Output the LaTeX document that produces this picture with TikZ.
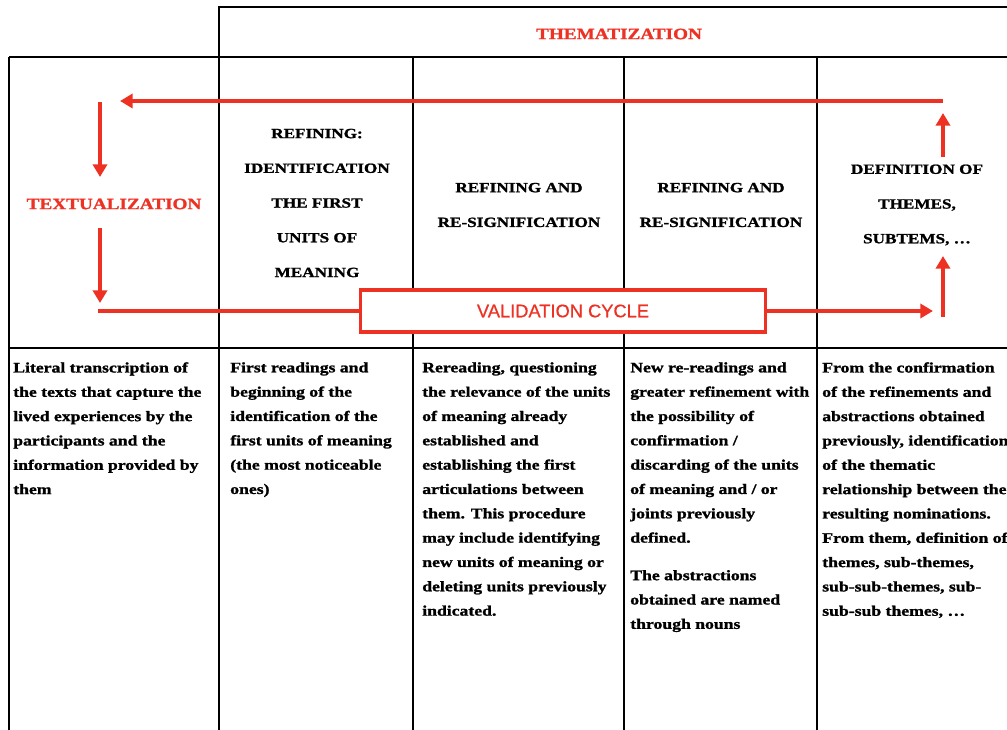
\documentclass[tikz,border=0pt]{standalone}
\usepackage{fontspec}
\newfontfamily\cellfont[FakeStretch=1.22,FakeBold=1.3]{Liberation Serif}
\newfontfamily\valfont[FakeBold=0.6]{Liberation Sans}
\usetikzlibrary{arrows.meta}
\usetikzlibrary{positioning}
\definecolor{cyclered}{RGB}{237,50,36}

\begin{document}
\begin{tikzpicture}[x=0.025cm,y=-0.025cm]
\tikzset{gridline/.style={line width=1.5pt,black},
cycleline/.style={line width=2.3pt,cyclered},
cyclearrow/.style={cycleline,-{Triangle[length=9pt,width=10pt]}},
stagehead/.style={font=\cellfont\bfseries\fontsize{10}{24.7}\selectfont,align=center,inner sep=0pt},
phasehead/.style={font=\cellfont\bfseries\fontsize{11.2}{13}\selectfont,text=cyclered,inner sep=0pt},
celltext/.style={font=\cellfont\bfseries\fontsize{10.3}{17.3}\selectfont,align=left,anchor=north west,inner sep=0pt}}
\useasboundingbox (0,0) rectangle (1007,730);
\clip (0,0) rectangle (1007,730);
% table frame
\draw[gridline] (219,57) -- (219,7) -- (1030,7);
\draw[gridline] (9,57) -- (1030,57);
\draw[gridline] (9,348) -- (1030,348);
\foreach \x in {9,219,413,624,817}
  \draw[gridline] (\x,57) -- (\x,740);
% headings
\node[phasehead](them) at (619,34) {THEMATIZATION};
\node[phasehead](text) at (114,204) {TEXTUALIZATION};
\node[stagehead](first) at (317,203) {REFINING:\\IDENTIFICATION\\THE FIRST\\UNITS OF\\MEANING};
\node[stagehead](resig) at (519,205) {REFINING AND\\RE-SIGNIFICATION};
\node[stagehead](resigb) at (721,205) {REFINING AND\\RE-SIGNIFICATION};
\node[stagehead](defin) at (917,205) {DEFINITION OF\\THEMES,\\SUBTEMS, \dots};
% validation cycle
\node[draw=cyclered,line width=2.3pt,fill=white,minimum width=10.125cm,minimum height=1.05cm,
  font=\valfont\fontsize{13}{15}\selectfont,text=cyclered](valid) at (563,311) {VALIDATION CYCLE};
\coordinate (topright) at (943,101);
\coordinate (topleft) at (120,101);
\coordinate (downa) at (100,102);
\coordinate (downb) at (100,177);
\coordinate (downc) at (100,228);
\coordinate (downd) at (100,303);
\coordinate (botleft) at (98,311);
\coordinate (botright) at (933,311);
\coordinate (upa) at (943,317);
\coordinate (upb) at (943,256);
\coordinate (upc) at (943,157);
\coordinate (upd) at (943,113);
\draw[cyclearrow](topright) -- (topleft);
\draw[cyclearrow](downa) -- (downb);
\draw[cyclearrow](downc) -- (downd);
\draw[cycleline](botleft) -- (valid.west);
\draw[cyclearrow](valid.east) -- (botright);
\draw[cyclearrow](upa) -- (upb);
\draw[cyclearrow](upc) -- (upd);
% cell texts
\node[celltext](transc) at (13,362) {Literal transcription  of\\the texts that capture the\\lived experiences by the\\participants and the\\information provided by\\them};
\node[celltext](readings) at (230,362) {First readings and\\beginning of the\\identification of the\\first units of meaning\\(the most noticeable\\ones)};
\node[celltext](rereading) at (422,362) {Rereading, questioning\\the relevance of the units\\of meaning already\\established  and\\establishing the first\\articulations between\\them. This procedure\\may include identifying\\new units of meaning or\\deleting units previously\\indicated.};
\node[celltext](newread) at (630,362) {New re-readings and\\greater refinement with\\the possibility  of\\confirmation /\\discarding of the units\\of meaning and / or\\joints previously\\defined.\\[9.4pt]The abstractions\\obtained are named\\through nouns};
\node[celltext](confirm) at (822,362) {From the confirmation\\of the refinements and\\abstractions obtained\\previously, identification\\of the thematic\\relationship between the\\resulting nominations.\\From them, definition of\\themes, sub-themes,\\sub-sub-themes, sub-\\sub-sub themes, \dots};
\end{tikzpicture}
\end{document}
